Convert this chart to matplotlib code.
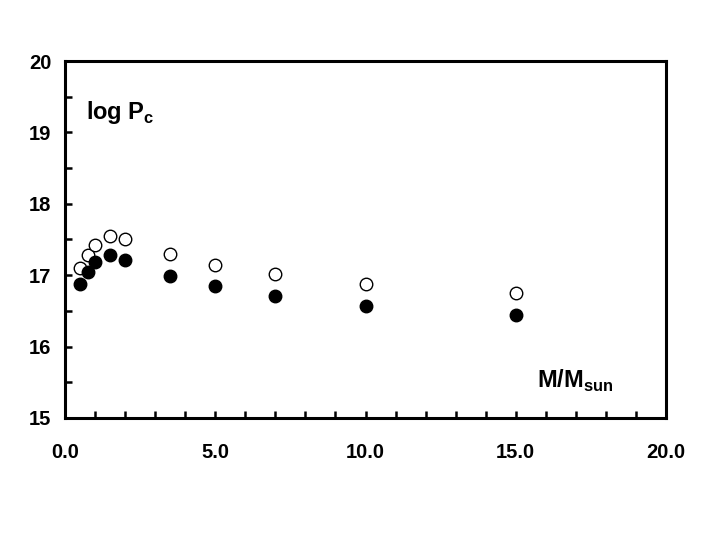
import numpy as np
import matplotlib.pyplot as plt
from matplotlib.ticker import MultipleLocator, FormatStrFormatter

plt.rcParams['font.family'] = 'Liberation Sans'
plt.rcParams['font.weight'] = 'bold'
plt.rcParams['mathtext.fontset'] = 'custom'
plt.rcParams['mathtext.rm'] = 'Liberation Sans:bold'
plt.rcParams['mathtext.bf'] = 'Liberation Sans:bold'

# stellar mass (M/Msun) and central pressure log Pc
mass = [0.5, 0.75, 1.0, 1.5, 2.0, 3.5, 5.0, 7.0, 10.0, 15.0]
logpc_filled = [16.87, 17.04, 17.19, 17.28, 17.21, 16.99, 16.85, 16.71, 16.57, 16.44]
logpc_open = [17.10, 17.28, 17.42, 17.55, 17.50, 17.30, 17.14, 17.01, 16.88, 16.75]

fig = plt.figure(figsize=(7.2, 5.4), dpi=100)
ax = fig.add_axes([0.0903, 0.226, 0.8347, 0.661])

ax.plot(mass, logpc_open, 'o', ms=9, mfc='white', mec='black', mew=1.0)
ax.plot(mass, logpc_filled, 'o', ms=9, mfc='black', mec='black', mew=1.0)

ax.set_xlim(0, 20)
ax.set_ylim(15, 20)
ax.xaxis.set_major_locator(MultipleLocator(5))
ax.xaxis.set_minor_locator(MultipleLocator(1))
ax.yaxis.set_major_locator(MultipleLocator(1))
ax.yaxis.set_minor_locator(MultipleLocator(0.5))
ax.xaxis.set_major_formatter(FormatStrFormatter('%.1f'))

for s in ax.spines.values():
    s.set_linewidth(2.2)
ax.tick_params(which='both', direction='in', length=5, width=1.8,
               top=False, right=False, labelsize=14.5)
ax.tick_params(axis='x', which='major', pad=18)
ax.tick_params(axis='y', which='major', pad=10)

ax.text(0.035, 0.855, r'log P$_\mathrm{c}$', transform=ax.transAxes,
        fontsize=17, fontweight='bold', va='center')
ax.text(0.785, 0.105, r'M/M$_\mathrm{sun}$', transform=ax.transAxes,
        fontsize=17, fontweight='bold', va='center')

fig.savefig('out.png', dpi=100)
